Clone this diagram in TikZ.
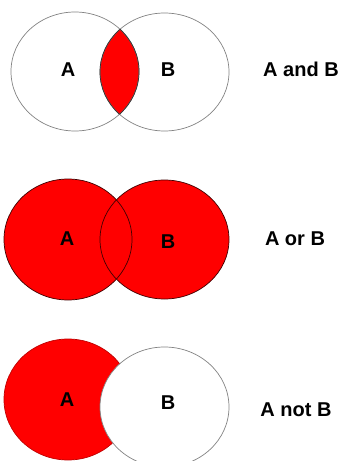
\documentclass[tikz,border=0pt]{standalone}
\usepackage{fontspec}
\setmainfont{Liberation Sans}
\definecolor{vred}{RGB}{255,0,0}
\definecolor{ring}{RGB}{130,130,130}
\begin{document}
\begin{tikzpicture}[x=1pt,y=-1pt,
  lbl/.style={font=\bfseries\fontsize{20}{20}\selectfont,inner sep=0pt,anchor=center},
  caption/.style={font=\bfseries\fontsize{20}{20}\selectfont,inner sep=0pt,anchor=center},
  thinline/.style={line width=0.7pt}]
\useasboundingbox (0,0) rectangle (342,461);
% ---------- A and B ----------
\begin{scope}
  \clip (75,71.5) ellipse [x radius=64, y radius=59.5];
  \fill[vred] (164.5,72) ellipse [x radius=64.5, y radius=59];
\end{scope}
\draw[thinline,ring] (75,71.5) ellipse [x radius=64, y radius=59.5];
\draw[thinline,ring] (164.5,72) ellipse [x radius=64.5, y radius=59];
\begin{scope}
  \clip (75,71.5) ellipse [x radius=64, y radius=59.5];
  \draw[thinline,black!80] (164.5,72) ellipse [x radius=64.5, y radius=59];
\end{scope}
\begin{scope}
  \clip (164.5,72) ellipse [x radius=64.5, y radius=59];
  \draw[thinline,black!80] (75,71.5) ellipse [x radius=64, y radius=59.5];
\end{scope}
\node[lbl] (a1) at (68,70) {A};
\node[lbl] (b1) at (168,70) {B};
\node[caption] (c1) at (301,69) {A and B};
% ---------- A or B ----------
\fill[vred] (68,239.5) ellipse [x radius=64, y radius=60.5];
\fill[vred] (164.5,239.5) ellipse [x radius=64.5, y radius=59.5];
\draw[thinline,black!75!red] (68,239.5) ellipse [x radius=64, y radius=60.5];
\draw[thinline,black!75!red] (164.5,239.5) ellipse [x radius=64.5, y radius=59.5];
\node[lbl] (a2) at (67,239) {A};
\node[lbl] (b2) at (168,242) {B};
\node[caption] (c2) at (295,239) {A or B};
% ---------- A not B ----------
\fill[vred] (68,399.5) ellipse [x radius=64, y radius=60.5];
\draw[thinline,red!75!black] (68,399.5) ellipse [x radius=64, y radius=60.5];
\fill[white] (164.5,407) ellipse [x radius=64.5, y radius=60];
\draw[thinline,ring] (164.5,407) ellipse [x radius=64.5, y radius=60];
\node[lbl] (a3) at (67,400) {A};
\node[lbl] (b3) at (168,403) {B};
\node[caption] (c3) at (296,410) {A not B};
\end{tikzpicture}
\end{document}
